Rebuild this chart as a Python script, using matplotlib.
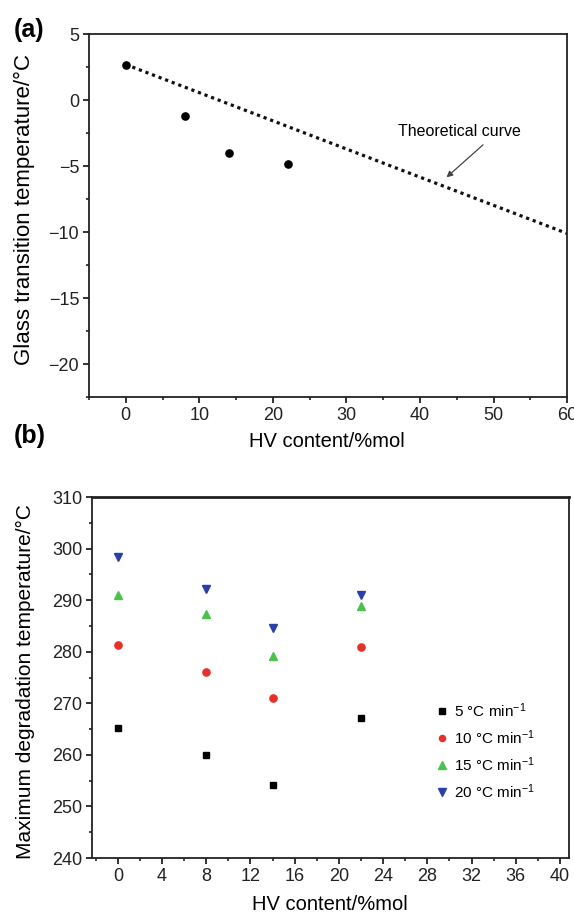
import matplotlib
matplotlib.use("Agg")
import matplotlib.pyplot as plt
from matplotlib.ticker import MultipleLocator

plt.rcParams['font.family'] = ['Liberation Sans', 'DejaVu Sans']
plt.rcParams['mathtext.fontset'] = 'custom'
plt.rcParams['mathtext.rm'] = 'Liberation Sans'
plt.rcParams['mathtext.it'] = 'Liberation Sans:italic'

# Panel (a) data
hv_a = [0, 8, 14, 22]
tg = [2.7, -1.2, -4.0, -4.8]
theory_x = [0, 60]
theory_y = [2.7, -10.1]

# Panel (b) data
hv_b = [0, 8, 14, 22]
rates = ["5 °C min$^{-1}$", "10 °C min$^{-1}$", "15 °C min$^{-1}$", "20 °C min$^{-1}$"]
t5 = [265.2, 260.0, 254.1, 267.2]
t10 = [281.3, 276.1, 271.0, 281.0]
t15 = [291.0, 287.3, 279.1, 288.8]
t20 = [298.3, 292.2, 284.6, 291.0]

fig = plt.figure(figsize=(5.74, 9.13), dpi=100)

def style(ax):
    for s in ax.spines.values():
        s.set_linewidth(1.3)
        s.set_color('#222222')
    ax.tick_params(which='both', direction='out', top=False, right=False,
                   labelsize=13, colors='#222222', pad=3)
    ax.tick_params(which='major', length=4, width=1.3)
    ax.tick_params(which='minor', length=2.5, width=1.2)

# ---- (a)
axa = fig.add_axes([0.155, 0.565, 0.833, 0.3976])
axa.plot(theory_x, theory_y, color='#111111', lw=2.3,
         linestyle=(0, (1, 1.2)), solid_capstyle='butt', dash_capstyle='butt')
axa.plot(hv_a, tg, 'o', color='black', ms=5.2, zorder=3)
axa.set_xlim(-5, 60)
axa.set_ylim(-22.5, 5)
axa.xaxis.set_major_locator(MultipleLocator(10))
axa.xaxis.set_minor_locator(MultipleLocator(5))
axa.yaxis.set_major_locator(MultipleLocator(5))
axa.yaxis.set_minor_locator(MultipleLocator(2.5))
style(axa)
axa.set_xlabel("HV content/%mol", fontsize=14.5)
axa.set_ylabel("Glass transition temperature/°C", fontsize=16)
axa.xaxis.set_label_coords(0.498, -0.096)
axa.yaxis.set_label_coords(-0.113, 0.518)
axa.annotate("Theoretical curve", xy=(43.6, -5.85), xytext=(45.4, -2.4),
             ha='center', va='center', fontsize=11.5,
             arrowprops=dict(arrowstyle='-|>', color='#444444', lw=0.9,
                             relpos=(0.74, 0.0), shrinkA=3, shrinkB=0,
                             mutation_scale=9))
fig.text(0.024, 0.967, "(a)", fontsize=18, fontweight='bold', va='center')

# ---- (b)
axb = fig.add_axes([0.160, 0.0602, 0.831, 0.3954])
axb.plot(hv_b, t5, 's', color='black', ms=5, label=rates[0], linestyle='none')
axb.plot(hv_b, t10, 'o', color='#e8302a', ms=5.2, label=rates[1], linestyle='none')
axb.plot(hv_b, t15, '^', color='#4cc24c', ms=6, label=rates[2], linestyle='none')
axb.plot(hv_b, t20, 'v', color='#2b3fa8', ms=6, label=rates[3], linestyle='none')
axb.set_xlim(-2.35, 40.8)
axb.set_ylim(240, 310)
axb.xaxis.set_major_locator(MultipleLocator(4))
axb.xaxis.set_minor_locator(MultipleLocator(2))
axb.yaxis.set_major_locator(MultipleLocator(10))
axb.yaxis.set_minor_locator(MultipleLocator(5))
style(axb)
axb.spines['top'].set_linewidth(2)
axb.set_xlabel("HV content/%mol", fontsize=14.5)
axb.set_ylabel("Maximum degradation temperature/°C", fontsize=15)
axb.xaxis.set_label_coords(0.5, -0.102)
axb.yaxis.set_label_coords(-0.12, 0.49)
axb.legend(loc='upper left', bbox_to_anchor=(0.722, 0.435), frameon=False,
           fontsize=11, handlelength=0.8, handletextpad=0.35, labelspacing=0.55,
           markerscale=0.85, borderpad=0, borderaxespad=0)
fig.text(0.024, 0.522, "(b)", fontsize=18, fontweight='bold', va='center')

fig.savefig("out.png", dpi=100)
